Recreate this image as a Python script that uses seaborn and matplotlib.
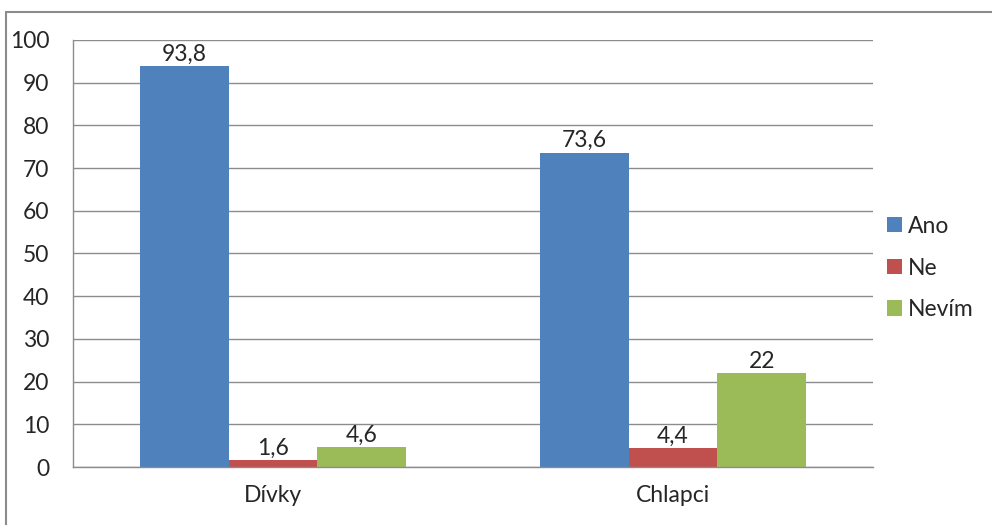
import matplotlib
matplotlib.use("Agg")
import matplotlib.pyplot as plt
import matplotlib.lines as mlines
import seaborn as sns
import pandas as pd

# data
groups = ["Dívky", "Chlapci"]
answers = ["Ano", "Ne", "Nevím"]
ano = [93.8, 73.6]
ne = [1.6, 4.4]
nevim = [4.6, 22]
colors = ["#4F81BD", "#C0504D", "#9BBB59"]
y_ticks = [0, 10, 20, 30, 40, 50, 60, 70, 80, 90, 100]

rows = []
for i, g in enumerate(groups):
    for a, vals in zip(answers, [ano, ne, nevim]):
        rows.append({"skupina": g, "odpoved": a, "procento": vals[i]})
df = pd.DataFrame(rows)

sns.set_style("white")
plt.rcParams["font.family"] = ["Lato", "DejaVu Sans"]
FS = 16.5

fig = plt.figure(figsize=(9.92, 5.25), dpi=100)
ax = fig.add_axes([73 / 992, 58 / 525, 800 / 992, 427 / 525])

sns.barplot(data=df, x="skupina", y="procento", hue="odpoved",
            order=groups, hue_order=answers, palette=colors,
            width=0.665, saturation=1, linewidth=0, ax=ax, legend=True)

for c in ax.containers:
    labs = [f"{v:g}".replace(".", ",") for v in c.datavalues]
    ax.bar_label(c, labels=labs, padding=1, fontsize=FS)

ax.set_ylim(0, 100)
ax.set_xlim(-0.5, 1.5)
ax.set_yticks(y_ticks)
ax.yaxis.grid(True, color="#8c8c8c", linewidth=1)
ax.set_axisbelow(True)
ax.set_xlabel("")
ax.set_ylabel("")

for s in ["top", "right"]:
    ax.spines[s].set_visible(False)
for s in ["left", "bottom"]:
    ax.spines[s].set_color("#8c8c8c")
    ax.spines[s].set_linewidth(1)

# category separator ticks on the x axis
ax.set_xticks([-0.5, 0.5, 1.5], minor=True)
ax.tick_params(axis="x", which="minor", length=7, color="#8c8c8c", direction="out")
ax.tick_params(axis="x", which="major", length=0, labelsize=FS, pad=13)
ax.tick_params(axis="y", length=7, color="#8c8c8c", direction="out", labelsize=FS, pad=10)

handles, labels = ax.get_legend_handles_labels()
ax.legend(handles, labels, loc="center left", bbox_to_anchor=(0.992, 0.466),
          frameon=False, fontsize=FS, handlelength=0.65, handleheight=0.65,
          handletextpad=0.25, labelspacing=0.9)

# outer chart border (top and left edges visible)
fig.add_artist(mlines.Line2D([6 / 992, 6 / 992], [0, 1 - 12 / 525],
                             transform=fig.transFigure, color="#8c8c8c", linewidth=1.5))
fig.add_artist(mlines.Line2D([6 / 992, 1], [1 - 12 / 525, 1 - 12 / 525],
                             transform=fig.transFigure, color="#8c8c8c", linewidth=1.5))

fig.savefig("out.png", dpi=100)
